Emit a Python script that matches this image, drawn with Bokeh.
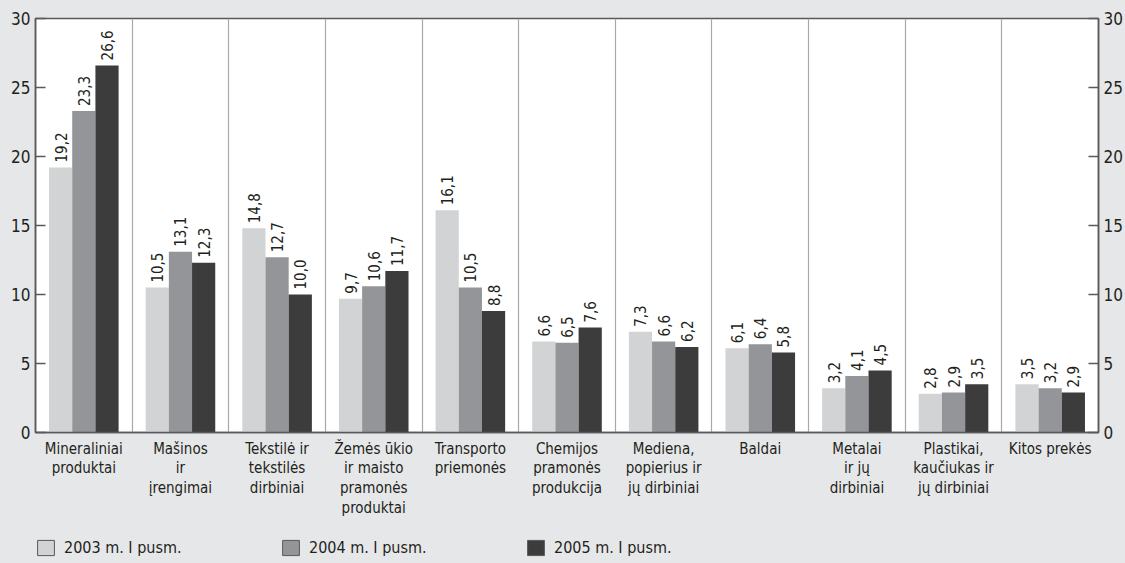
import math
from bokeh.plotting import figure
from bokeh.layouts import column
from bokeh.models import (ColumnDataSource, FixedTicker, LinearAxis, Legend, LegendItem)
from bokeh.core.properties import value
from bokeh.embed import file_html
from bokeh.resources import INLINE

categories = [
    "Mineraliniai\nproduktai",
    "Mašinos\nir\nįrengimai",
    "Tekstilė ir\ntekstilės\ndirbiniai",
    "Žemės ūkio\nir maisto\npramonės\nproduktai",
    "Transporto\npriemonės",
    "Chemijos\npramonės\nprodukcija",
    "Mediena,\npopierius ir\njų dirbiniai",
    "Baldai",
    "Metalai\nir jų\ndirbiniai",
    "Plastikai,\nkaučiukas ir\njų dirbiniai",
    "Kitos prekės",
]
series_names = ["2003 m. I pusm.", "2004 m. I pusm.", "2005 m. I pusm."]
v2003 = [19.2, 10.5, 14.8, 9.7, 16.1, 6.6, 7.3, 6.1, 3.2, 2.8, 3.5]
v2004 = [23.3, 13.1, 12.7, 10.6, 10.5, 6.5, 6.6, 6.4, 4.1, 2.9, 3.2]
v2005 = [26.6, 12.3, 10.0, 11.7, 8.8, 7.6, 6.2, 5.8, 4.5, 3.5, 2.9]
y_ticks = [0, 5, 10, 15, 20, 25, 30]

colors = ["#d1d3d4", "#939598", "#3c3c3d"]
FONT = "DejaVu Sans Condensed"
TXT = "#231f20"
BG = "#e6e7e8"
DARK = "#58595b"

n = len(categories)
centers = [i + 0.5 for i in range(n)]
bw = 0.24
offsets = [-bw, 0.0, bw]

MAIN_H = 533
p = figure(width=1125, height=MAIN_H, x_range=(0, n), y_range=(0, 30),
           output_backend="svg", toolbar_location=None,
           min_border_left=35, min_border_right=27, min_border_top=18,
           min_border_bottom=MAIN_H - 432)
p.background_fill_color = "white"
p.border_fill_color = BG
p.outline_line_color = DARK
p.outline_line_width = 1.5

for k, vals in enumerate([v2003, v2004, v2005]):
    xs = [c + offsets[k] for c in centers]
    src = ColumnDataSource(dict(x=xs, top=vals,
                                lab=[f"{v:.1f}".replace(".", ",") for v in vals]))
    p.vbar(x="x", top="top", bottom=0, width=bw, source=src,
           fill_color=colors[k], line_color=None)
    p.text(x="x", y="top", text="lab", source=src, angle=math.pi / 2,
           text_align="left", text_baseline="middle", y_offset=-5,
           text_font=value(FONT), text_font_size="15px", text_color=TXT)

# x axis
xa = p.xaxis[0]
xa.ticker = FixedTicker(ticks=centers)
xa.major_label_overrides = {c: categories[i] for i, c in enumerate(centers)}
xa.major_tick_line_color = None
xa.axis_line_color = DARK
xa.axis_line_width = 1.5
xa.major_label_text_font = FONT
xa.major_label_text_font_size = "15px"
xa.major_label_text_color = TXT
xa.major_label_standoff = 1
xa.major_label_text_line_height = 1.1


def style_y(ax):
    ax.ticker = FixedTicker(ticks=y_ticks)
    ax.major_tick_in = 10
    ax.major_tick_out = 0
    ax.minor_tick_line_color = None
    ax.axis_line_color = DARK
    ax.axis_line_width = 1.5
    ax.major_tick_line_color = DARK
    ax.major_tick_line_width = 1.5
    ax.major_label_text_font = FONT
    ax.major_label_text_font_size = "17px"
    ax.major_label_text_color = TXT
    ax.major_label_standoff = 5


style_y(p.yaxis[0])
ra = LinearAxis()
style_y(ra)
p.add_layout(ra, "right")

p.xgrid.ticker = FixedTicker(ticks=list(range(1, n)))
p.xgrid.grid_line_color = "#a7a9ac"
p.xgrid.grid_line_width = 1.2
p.ygrid.grid_line_color = None

# legend strip
LEG_H = 563 - MAIN_H
lf = figure(width=1125, height=LEG_H, x_range=(0, 1), y_range=(0, 1),
            output_backend="svg", toolbar_location=None,
            min_border=0, min_border_left=0, min_border_right=0,
            min_border_top=0, min_border_bottom=0)
lf.axis.visible = False
lf.grid.visible = False
lf.outline_line_color = None
lf.background_fill_alpha = 0
lf.border_fill_color = BG
items = []
for k in range(3):
    r = lf.rect(x=[-5], y=[-5], width=0.1, height=0.1, fill_color=colors[k],
                line_color=DARK, line_width=1)
    items.append(LegendItem(label=series_names[k], renderers=[r]))
legend = Legend(items=items, orientation="horizontal",
                glyph_width=21, glyph_height=19, label_standoff=8, spacing=0,
                label_width=216, label_text_font=FONT, label_text_font_size="16px",
                label_text_color=TXT, background_fill_alpha=0, border_line_color=None,
                padding=0, margin=0, location=(0, 6))
lf.add_layout(legend, "center")
lf.legend.item_background_fill_alpha = 0

layout = column(p, lf, spacing=0, styles={"background-color": BG})
open("out.html", "w").write(file_html(layout, INLINE))
